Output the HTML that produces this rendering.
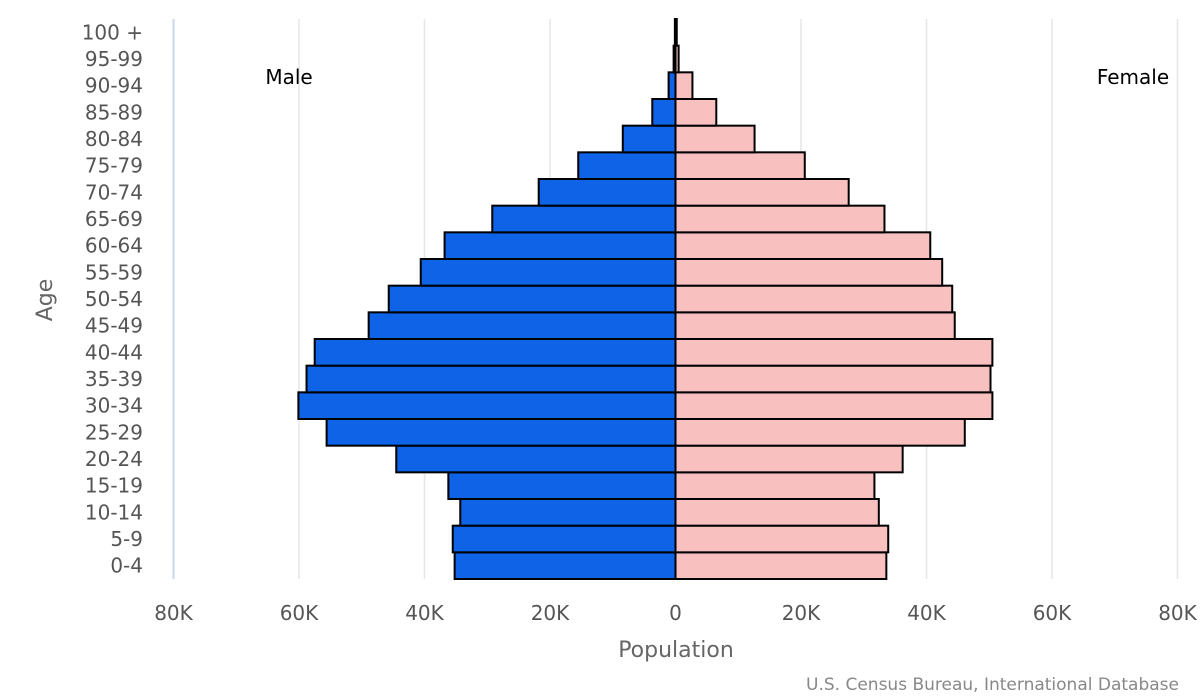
<!DOCTYPE html>
<html><head><meta charset="utf-8"><style>
html,body{margin:0;padding:0;background:#fff;}
svg{display:block;font-family:"DejaVu Sans","Liberation Sans",sans-serif;}
</style></head><body>
<svg id="chart" width="1200" height="700"></svg>
<script>
const ageGroups = ["0-4","5-9","10-14","15-19","20-24","25-29","30-34","35-39","40-44","45-49","50-54","55-59","60-64","65-69","70-74","75-79","80-84","85-89","90-94","95-99","100 +"];
const maleValues = [35.2,35.5,34.3,36.2,44.5,55.6,60.1,58.8,57.5,48.9,45.7,40.6,36.8,29.2,21.8,15.5,8.4,3.7,1.1,0.3,0.1];
const femaleValues = [33.6,33.9,32.4,31.7,36.2,46.1,50.5,50.2,50.5,44.5,44.1,42.5,40.6,33.3,27.6,20.6,12.6,6.5,2.7,0.5,0.2];
const xTicks = [-80,-60,-40,-20,0,20,40,60,80];
const xTickLabels = ["80K","60K","40K","20K","0","20K","40K","60K","80K"];

const NS="http://www.w3.org/2000/svg";
const svgEl=document.getElementById('chart');
const x0=675.5, pxPerK=6.275, plotTop=19, plotBottom=579;
const pitch=(plotBottom-plotTop)/ageGroups.length;
function xScale(v){return x0+v*pxPerK;}
function yScale(i){return plotBottom-(i+1)*pitch;}
function mk(tag,attrs){const e=document.createElementNS(NS,tag);for(const k in attrs)e.setAttribute(k,attrs[k]);svgEl.appendChild(e);return e;}

xTicks.forEach((t,i)=>{
  const x=xScale(t);
  if(t!==0){
    const g=mk('line',{x1:x,x2:x,y1:plotTop,y2:plotBottom,stroke:i===0?'#ccd6eb':'#e6e6e6','stroke-width':i===0?2:1.5});
    
    
  }
  const lb=mk('text',{x:x,y:620,'text-anchor':'middle','font-size':20,fill:'#555'});
  lb.textContent=xTickLabels[i];
  
  
});

ageGroups.forEach((a,i)=>{
  const y=yScale(i);
  const lb=mk('text',{x:143,y:y+pitch/2+7,'text-anchor':'end','font-size':20,fill:'#555'});
  lb.textContent=a;
  
  
  const m=maleValues[i], f=femaleValues[i];
  const mb=mk('rect',{x:xScale(-m),y:y,width:Math.max(m*pxPerK,1),height:pitch,fill:'#0e63e6',stroke:'#000','stroke-width':2});
  
  
  const fb=mk('rect',{x:x0,y:y,width:Math.max(f*pxPerK,1),height:pitch,fill:'#f9c0c0',stroke:'#000','stroke-width':2});
  
  
});

function txt(s,attrs,name){const t=mk('text',attrs);t.textContent=s;return t;}
txt('Male',{x:289,y:84,'text-anchor':'middle','font-size':20,fill:'#000'},'male-label');
txt('Female',{x:1133,y:84,'text-anchor':'middle','font-size':20,fill:'#000'},'female-label');
txt('Population',{x:676,y:657,'text-anchor':'middle','font-size':22,fill:'#666'},'x-axis-title');
txt('Age',{x:0,y:0,'text-anchor':'middle','font-size':22,fill:'#666',transform:'translate(52,300) rotate(-90)'},'y-axis-title');
txt('U.S. Census Bureau, International Database',{x:1179,y:690,'text-anchor':'end','font-size':17,fill:'#888'},'source-credit');
</script>
</body></html>
